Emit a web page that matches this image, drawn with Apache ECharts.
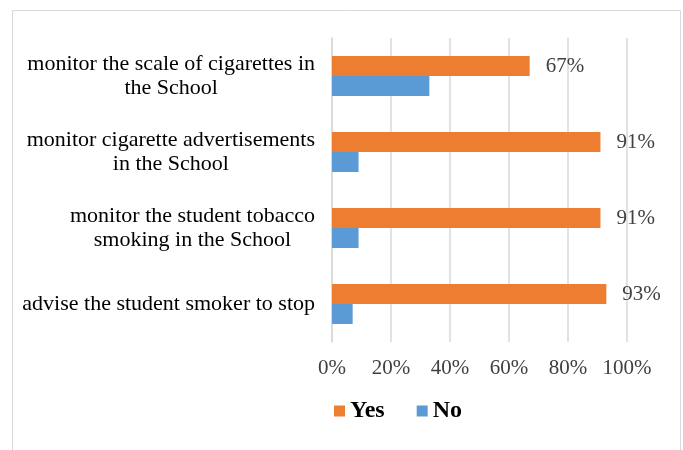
<!DOCTYPE html>
<html><head><meta charset="utf-8">
<script src="https://cdn.jsdelivr.net/npm/echarts@6/dist/echarts.min.js"></script>
<style>html,body{margin:0;padding:0;background:#fff}#c{width:683px;height:450px}</style>
</head><body><div id="c"></div>
<script>
const categories = [
  "monitor the scale of cigarettes in\nthe School",
  "monitor cigarette advertisements\nin the School",
  "monitor the student tobacco\nsmoking in the School",
  "advise the student smoker to stop"
];
const yesValues = [67, 91, 91, 93];
const noValues = [33, 9, 9, 7];
const xTicks = [0, 20, 40, 60, 80, 100];

const chart = echarts.init(document.getElementById('c'));
const serif = "'Liberation Serif','Times New Roman',serif";
chart.setOption({
  animation: false,
  graphic: [{
    type: 'rect', shape: {x: 12.5, y: 10.5, width: 668, height: 470},
    style: {fill: 'none', stroke: '#d9d9d9', lineWidth: 1}, silent: true
  }],
  grid: {left: 332, right: 56, top: 38, bottom: 108},
  legend: {
    data: ['Yes', 'No'], top: 394, left: 329,
    icon: 'rect', itemWidth: 11, itemHeight: 11, itemGap: 32,
    textStyle: {fontFamily: serif, fontSize: 24, fontWeight: 'bold', color: '#000'}
  },
  xAxis: {
    type: 'value', min: xTicks[0], max: xTicks[xTicks.length - 1], interval: 20,
    axisLine: {show: false}, axisTick: {show: false},
    splitLine: {lineStyle: {color: '#d9d9d9', width: 1.5}},
    axisLabel: {formatter: '{value}%', fontFamily: serif, fontSize: 21, color: '#404040', margin: 16}
  },
  yAxis: {
    type: 'category', data: categories, inverse: true,
    axisLine: {lineStyle: {color: '#d9d9d9', width: 1.5}}, axisTick: {show: false},
    axisLabel: {
      margin: 17, align: 'right', fontFamily: serif, fontSize: 22, color: '#000', lineHeight: 24,
      formatter: function (v) { return v.split('\n').map(s => '{c|' + s + '}').join('\n'); },
      rich: {c: {align: 'center', fontFamily: serif, fontSize: 22, color: '#000', lineHeight: 24}}
    }
  },
  series: [
    {name: 'Yes', type: 'bar', data: yesValues, barWidth: 20, barGap: '0%',
     itemStyle: {color: '#ED7D31'},
     label: {show: true, position: 'right', distance: 16, formatter: '{c}%',
             fontFamily: serif, fontSize: 21, color: '#404040'}},
    {name: 'No', type: 'bar', data: noValues, barWidth: 20,
     itemStyle: {color: '#5B9BD5'}}
  ]
});
</script></body></html>
